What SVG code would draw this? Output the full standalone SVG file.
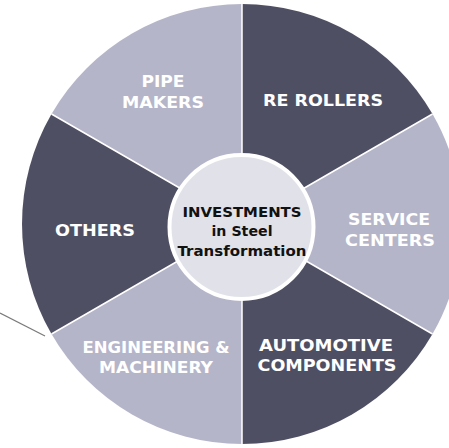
<svg xmlns="http://www.w3.org/2000/svg" width="449" height="448" viewBox="0 0 449 448">
  <style>
    .dark { fill: #4f4f63; }
    .light { fill: #b5b5c9; }
    .lbl { font-family: "DejaVu Sans", Inter, "Liberation Sans", sans-serif; font-weight: 700; font-size: 16px; fill: #ffffff; text-anchor: middle; }
    .hub { font-family: "DejaVu Sans", Inter, "Liberation Sans", sans-serif; font-weight: 700; font-size: 14.5px; fill: #111111; text-anchor: middle; }
    .div { stroke: #ffffff; stroke-width: 1.5; fill: none; }
  </style>
  <rect width="449" height="448" fill="#ffffff"/>

  <!-- six 60-degree sectors around (242,224), r=220 -->
  <g id="re-rollers">
    <path class="dark" d="M242,224 L242,4 A220,220 0 0 1 432.5,114 Z"/>
    <text class="lbl" x="323" y="106" textLength="120" lengthAdjust="spacingAndGlyphs">RE ROLLERS</text>
  </g>
  <g id="service-centers">
    <path class="light" d="M242,224 L432.5,114 A220,220 0 0 1 432.5,334 Z"/>
    <text class="lbl" x="389" y="225" textLength="82" lengthAdjust="spacingAndGlyphs">SERVICE</text>
    <text class="lbl" x="390" y="246" textLength="90" lengthAdjust="spacingAndGlyphs">CENTERS</text>
  </g>
  <g id="automotive-components">
    <path class="dark" d="M242,224 L432.5,334 A220,220 0 0 1 242,444 Z"/>
    <text class="lbl" x="326" y="351" textLength="134" lengthAdjust="spacingAndGlyphs">AUTOMOTIVE</text>
    <text class="lbl" x="327" y="371" textLength="139" lengthAdjust="spacingAndGlyphs">COMPONENTS</text>
  </g>
  <g id="engineering-machinery">
    <path class="light" d="M242,224 L242,444 A220,220 0 0 1 51.5,334 Z"/>
    <text class="lbl" x="156" y="353" textLength="147" lengthAdjust="spacingAndGlyphs">ENGINEERING &amp;</text>
    <text class="lbl" x="156" y="373" textLength="114" lengthAdjust="spacingAndGlyphs">MACHINERY</text>
  </g>
  <g id="others">
    <path class="dark" d="M242,224 L51.5,334 A220,220 0 0 1 51.5,114 Z"/>
    <text class="lbl" x="95" y="236" textLength="80" lengthAdjust="spacingAndGlyphs">OTHERS</text>
  </g>
  <g id="pipe-makers">
    <path class="light" d="M242,224 L51.5,114 A220,220 0 0 1 242,4 Z"/>
    <text class="lbl" x="163" y="87" textLength="43" lengthAdjust="spacingAndGlyphs">PIPE</text>
    <text class="lbl" x="163" y="108" textLength="82" lengthAdjust="spacingAndGlyphs">MAKERS</text>
  </g>

  <!-- sector dividers and leader line -->
  <g id="connectors">
    <path class="div" d="M242,224 L242,4 M242,224 L432.5,114 M242,224 L432.5,334 M242,224 L242,444 M242,224 L51.5,334 M242,224 L51.5,114"/>
    <line x1="0" y1="313" x2="45" y2="336" stroke="#7a7a7a" stroke-width="1.2"/>
  </g>

  <g id="hub">
    <circle cx="241.5" cy="227" r="72" fill="#e1e1e9" stroke="#ffffff" stroke-width="4"/>
    <text class="hub" x="242" y="217" textLength="119" lengthAdjust="spacingAndGlyphs">INVESTMENTS</text>
    <text class="hub" x="242" y="236" textLength="61" lengthAdjust="spacingAndGlyphs">in Steel</text>
    <text class="hub" x="242" y="256" textLength="129" lengthAdjust="spacingAndGlyphs">Transformation</text>
  </g>
</svg>
